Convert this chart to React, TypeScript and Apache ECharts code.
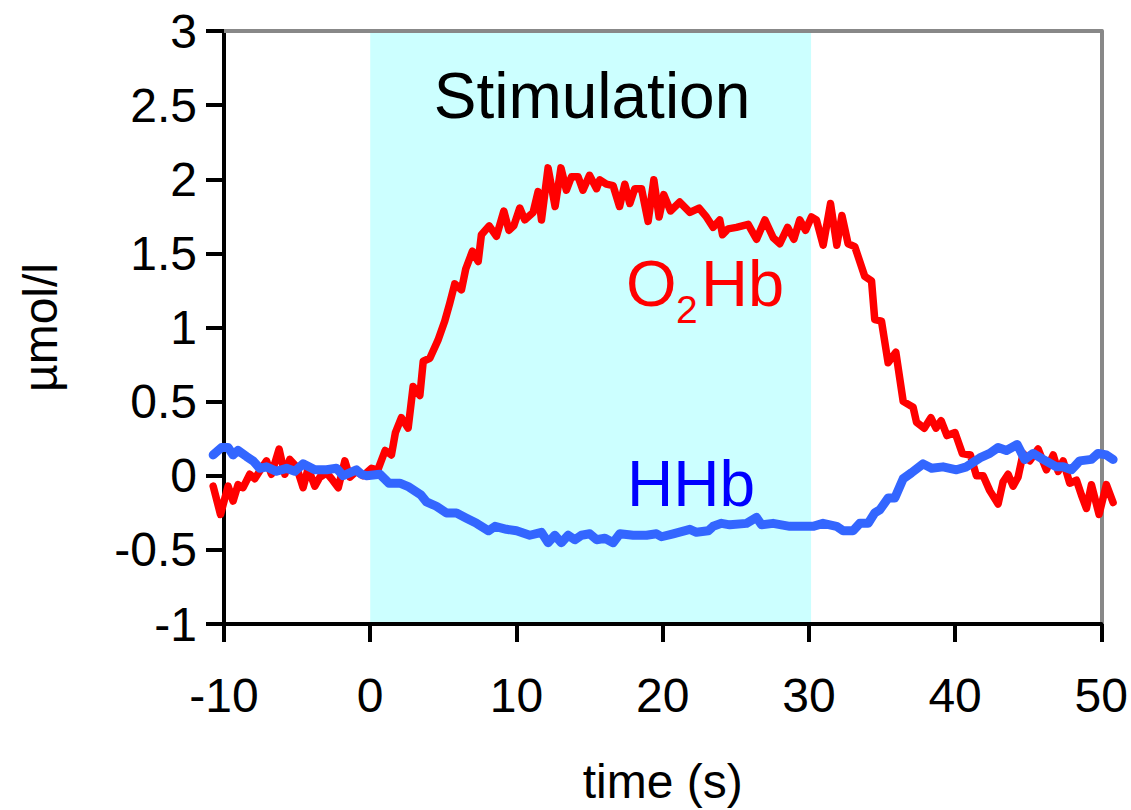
import React, { useEffect, useRef } from "react";
import * as echarts from "echarts";

const xTicks = { min: -10, max: 50, interval: 10 };
const yTicks = { min: -1, max: 3, interval: 0.5 };
const dataXRange = { min: -11, max: 51 };
const stimulation = [0, 30.15];

const o2hbTime = [
  -10.74, -10.24, -9.72, -9.38, -9.04, -8.7, -8.24, -7.9, -7.44, -7.1, -6.76, -6.24, -5.85, -5.51, -5.05,
  -4.6, -4.26, -3.8, -3.46, -3.0, -2.66, -2.2, -1.75, -1.41, -0.96, -0.5, 0.07, 0.5, 1.0, 1.43, 1.7, 2.11,
  2.57, 2.91, 3.37, 3.6, 4.05, 4.6, 5.07, 5.41, 5.75, 6.21, 6.5, 6.96, 7.35, 7.57, 8.1, 8.6, 9.1, 9.45,
  9.78, 10.19, 10.53, 11.1, 11.44, 11.67, 12.12, 12.6, 13.0, 13.37, 13.72, 14.17, 14.5, 14.95, 15.43,
  15.65, 16.1, 16.56, 17.0, 17.36, 17.7, 18.04, 18.5, 18.95, 19.34, 19.7, 20.02, 20.48, 21.11, 21.8,
  22.43, 22.93, 23.39, 23.84, 24.03, 24.41, 24.98, 25.78, 26.35, 26.92, 27.49, 27.94, 28.47, 28.9, 29.3,
  29.7, 30.1, 30.44, 30.9, 31.4, 31.83, 32.18, 32.6, 33.06, 33.74, 34.2, 34.42, 34.88, 35.33, 35.86,
  36.36, 37.04, 37.27, 37.8, 38.25, 38.6, 38.95, 39.35, 39.9, 40.4, 40.95, 41.36, 41.82, 42.27, 42.84,
  43.18, 43.52, 43.86, 44.2, 44.55, 45.0, 45.57, 46.14, 46.6, 46.94, 47.28, 47.73, 48.19, 48.53, 48.87,
  49.21, 49.73, 50.23, 50.69,
];
const o2hbValues = [
  -0.06, -0.25, -0.06, -0.16, -0.05, -0.07, 0.02, -0.01, 0.06, 0.11, 0.02, 0.19, 0.02, 0.12, 0.07,
  -0.07, 0.06, -0.06, 0.0, 0.03, -0.01, -0.07, 0.11, 0.0, 0.04, 0.01, 0.06, 0.05, 0.18, 0.15, 0.3, 0.4,
  0.33, 0.61, 0.55, 0.78, 0.8, 0.92, 1.05, 1.17, 1.3, 1.26, 1.4, 1.52, 1.45, 1.63, 1.69, 1.62, 1.79, 1.66,
  1.69, 1.81, 1.73, 1.78, 1.92, 1.73, 2.08, 1.82, 2.08, 1.93, 2.02, 2.02, 1.93, 2.03, 1.94,
  2.0, 1.97, 1.96, 1.82, 1.97, 1.84, 1.94, 1.94, 1.72, 2.0, 1.75, 1.9, 1.79, 1.85, 1.78,
  1.81, 1.75, 1.68, 1.73, 1.63, 1.67, 1.68, 1.7, 1.6, 1.73, 1.61, 1.57, 1.68, 1.6, 1.73,
  1.66, 1.75, 1.73, 1.56, 1.84, 1.56, 1.76, 1.57, 1.55, 1.35, 1.32, 1.06, 1.05, 0.77, 0.84,
  0.51, 0.47, 0.37, 0.33, 0.4, 0.33, 0.38, 0.28, 0.3, 0.16, 0.15, 0.01, 0.01, -0.09, -0.18,
  -0.03, 0.02, -0.06, 0.0, 0.16, 0.11, 0.19, 0.05, 0.15, 0.04, 0.11, -0.04, -0.02, -0.12, -0.21,
  -0.05, -0.25, -0.05, -0.17,
];

const hhbTime = [
  -10.74, -10.17, -9.72, -9.38, -9.04, -8.47, -8.01, -7.56, -7.1, -6.42, -5.73, -5.17, -4.6, -3.8, -3.0,
  -2.32, -1.87, -0.96, -0.61, -0.27, 0.64, 1.26, 2.0, 2.62, 3.45, 3.82, 4.5, 5.19, 5.87, 6.55, 7.24, 8.06,
  8.5, 9.28, 9.97, 10.87, 11.67, 12.12, 12.58, 13.03, 13.49, 13.95, 14.4, 14.97, 15.43, 16.0, 16.56,
  17.02, 17.93, 18.84, 19.52, 19.86, 20.66, 21.8, 22.25, 23.05, 23.39, 23.96, 24.53, 25.67, 26.35,
  26.69, 27.48, 28.62, 30.21, 30.89, 31.81, 32.26, 32.94, 33.4, 33.97, 34.42, 34.76, 35.33, 35.79,
  36.36, 36.93, 37.72, 38.3, 39.08, 40.0, 40.68, 41.59, 42.27, 42.84, 43.41, 44.14, 44.66, 45.23,
  45.91, 46.82, 47.28, 47.85, 48.41, 49.21, 49.66, 50.23, 50.69,
];
const hhbValues = [
  0.15, 0.2, 0.2, 0.15, 0.18, 0.14, 0.11, 0.06, 0.07, 0.04, 0.06, 0.04, 0.09, 0.05, 0.05,
  0.06, 0.01, 0.05, 0.02, 0.01, 0.02, -0.04, -0.04, -0.065, -0.12, -0.165, -0.195, -0.24, -0.24, -0.275, -0.31, -0.36,
  -0.33, -0.35, -0.36, -0.39, -0.37, -0.44, -0.39, -0.44, -0.39, -0.42, -0.39, -0.38, -0.42, -0.41, -0.44,
  -0.38, -0.39, -0.39, -0.38, -0.4, -0.38, -0.35, -0.37, -0.36, -0.33, -0.31, -0.32, -0.31, -0.27,
  -0.32, -0.31, -0.33, -0.33, -0.31, -0.33, -0.36, -0.36, -0.31, -0.31, -0.24, -0.22, -0.14, -0.14,
  -0.01, 0.03, 0.09, 0.06, 0.07, 0.05, 0.07, 0.13, 0.16, 0.2, 0.18, 0.22, 0.12, 0.16,
  0.12, 0.07, 0.07, 0.05, 0.11, 0.12, 0.16, 0.15, 0.12,
];

const FONT = '"Liberation Sans", Arial, Helvetica, sans-serif';

// plot geometry
const GRID_LEFT = 224;
const GRID_RIGHT = 28;
const GRID_TOP = 31;
const GRID_BOTTOM = 184;
const CHART_W = 1131;

export default function App() {
  const ref = useRef<HTMLDivElement>(null);
  useEffect(() => {
    if (!ref.current) return;
    const chart = echarts.init(ref.current, undefined, { renderer: "svg" });
    const o2hb = o2hbTime.map((t, i) => [t, o2hbValues[i]]);
    const hhb = hhbTime.map((t, i) => [t, hhbValues[i]]);

    // second, slightly wider grid at the same scale so the traces may run past the frame
    const plotW = CHART_W - GRID_LEFT - GRID_RIGHT;
    const pxPerUnit = plotW / (xTicks.max - xTicks.min);
    const wideLeft = GRID_LEFT - (xTicks.min - dataXRange.min) * pxPerUnit;
    const wideRight = GRID_RIGHT - (dataXRange.max - xTicks.max) * pxPerUnit;

    const txt = (text: string, x: number, y: number, size: number, fill: string, align = "left") => ({
      type: "text",
      x,
      y,
      z: 10,
      style: {
        text,
        fill,
        font: `${size}px ${FONT}`,
        align,
        textAlign: align,
        verticalAlign: "middle",
        textVerticalAlign: "middle",
      },
    });
    chart.setOption({
      animation: false,
      backgroundColor: "#ffffff",
      grid: [
        { left: GRID_LEFT, right: GRID_RIGHT, top: GRID_TOP, bottom: GRID_BOTTOM, containLabel: false },
        { left: wideLeft, right: wideRight, top: GRID_TOP, bottom: GRID_BOTTOM, containLabel: false },
      ],
      xAxis: [
        {
          type: "value",
          gridIndex: 0,
          min: xTicks.min,
          max: xTicks.max,
          interval: xTicks.interval,
          position: "bottom",
          z: 1.5,
          name: "time (s)",
          nameLocation: "middle",
          nameGap: 133,
          nameTextStyle: { fontFamily: FONT, fontSize: 48, color: "#000" },
          axisLine: { show: true, onZero: false, lineStyle: { color: "#000", width: 4 } },
          axisTick: { show: true, inside: false, length: 18, lineStyle: { color: "#000", width: 4 } },
          axisLabel: { fontFamily: FONT, fontSize: 48, color: "#000", margin: 47 },
          splitLine: { show: false },
        },
        {
          type: "value",
          gridIndex: 0,
          min: xTicks.min,
          max: xTicks.max,
          position: "top",
          z: 1.5,
          axisLine: { show: true, onZero: false, lineStyle: { color: "#888888", width: 4 } },
          axisTick: { show: false },
          axisLabel: { show: false },
          splitLine: { show: false },
        },
        {
          type: "value",
          gridIndex: 1,
          min: dataXRange.min,
          max: dataXRange.max,
          show: false,
        },
      ],
      yAxis: [
        {
          type: "value",
          gridIndex: 0,
          min: yTicks.min,
          max: yTicks.max,
          interval: yTicks.interval,
          position: "left",
          z: 1.5,
          name: "µmol/l",
          nameLocation: "middle",
          nameGap: 160,
          nameRotate: 90,
          nameTextStyle: { fontFamily: FONT, fontSize: 48, color: "#000" },
          axisLine: { show: true, onZero: false, lineStyle: { color: "#000", width: 4 } },
          axisTick: { show: true, inside: false, length: 18, lineStyle: { color: "#000", width: 4 } },
          axisLabel: { fontFamily: FONT, fontSize: 48, color: "#000", margin: 27 },
          splitLine: { show: false },
        },
        {
          type: "value",
          gridIndex: 0,
          min: yTicks.min,
          max: yTicks.max,
          position: "right",
          z: 1.5,
          axisLine: { show: true, onZero: false, lineStyle: { color: "#888888", width: 4 } },
          axisTick: { show: false },
          axisLabel: { show: false },
          splitLine: { show: false },
        },
        {
          type: "value",
          gridIndex: 1,
          min: yTicks.min,
          max: yTicks.max,
          show: false,
        },
      ],
      series: [
        {
          type: "line",
          name: "stim",
          xAxisIndex: 0,
          yAxisIndex: 0,
          z: 1,
          data: [],
          markArea: {
            silent: true,
            itemStyle: { color: "#CCFFFF", opacity: 1 },
            data: [[{ xAxis: stimulation[0] }, { xAxis: stimulation[1] }]],
          },
        },
        {
          type: "line",
          name: "O2Hb",
          xAxisIndex: 2,
          yAxisIndex: 2,
          z: 3,
          data: o2hb,
          showSymbol: false,
          symbol: "none",
          lineStyle: { color: "#FF0000", width: 7.5, join: "round", cap: "round" },
        },
        {
          type: "line",
          name: "HHb",
          xAxisIndex: 2,
          yAxisIndex: 2,
          z: 4,
          data: hhb,
          showSymbol: false,
          symbol: "none",
          lineStyle: { color: "#3366FF", width: 9, join: "round", cap: "round" },
        },
      ],
      graphic: [
        txt("Stimulation", 592, 96, 64, "#000000", "center"),
        txt("O", 626, 283, 65, "#FF0000"),
        txt("2", 676, 309, 39, "#FF0000"),
        txt("Hb", 701, 283, 65, "#FF0000"),
        txt("HHb", 627, 484, 64, "#0000FF"),
      ],
    });
    return () => chart.dispose();
  }, []);
  return (
    <div
      ref={ref}
      style={{ position: "fixed", left: 0, top: 0, width: CHART_W, height: 810, background: "#fff" }}
    />
  );
}
